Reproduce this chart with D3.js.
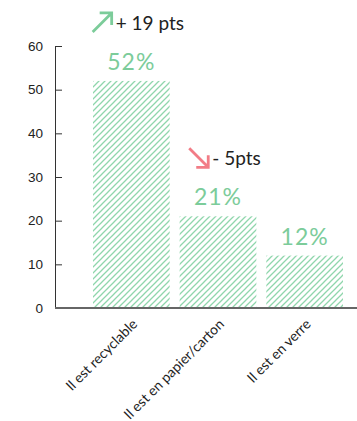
<!DOCTYPE html>
<html>
<head>
<meta charset="utf-8">
<script src="https://cdn.jsdelivr.net/npm/d3@7"></script>
<style>
  html, body { margin: 0; padding: 0; background: #fff; }
  svg { display: block; font-family: "Gill Sans", Lato, "Open Sans", sans-serif; }
</style>
</head>
<body>
<svg id="chart" width="357" height="421"></svg>
<script>
// Share of respondents citing each reason
const categories = ["Il est recyclable", "Il est en papier/carton", "Il est en verre"];
const values = [52, 21, 12];
// Change versus the previous wave (points)
const deltas = [19, -5, null];
const deltaLabels = ["+ 19 pts", "- 5pts", null];
const yTicks = [0, 10, 20, 30, 40, 50, 60];

const green = "#7ccc9a";
const hatch = "#8fd6ac";
const red = "#f27c86";
const ink = "#222";

const svg = d3.select("#chart");

const x = d3.scaleBand()
  .domain(categories)
  .range([93, 343])
  .paddingInner(0.115)
  .paddingOuter(0);

const y = d3.scaleLinear()
  .domain([0, 60])
  .range([308, 46]);

// Diagonal hatch fill for the bars
const defs = svg.append("defs");
const pat = defs.append("pattern")
  .attr("id", "hatch")
  .attr("patternUnits", "userSpaceOnUse")
  .attr("width", 6)
  .attr("height", 6);
pat.append("path")
  .attr("d", "M-1,1 L1,-1 M0,6 L6,0 M5,7 L7,5")
  .attr("stroke", hatch)
  .attr("stroke-width", 1.3);

// Bars
svg.append("g")
  .selectAll("rect")
  .data(categories)
  .join("rect")
  .attr("x", d => x(d))
  .attr("y", (d, i) => y(values[i]))
  .attr("width", x.bandwidth())
  .attr("height", (d, i) => y(0) - y(values[i]))
  .attr("fill", "url(#hatch)");

// Y axis with inward ticks
const yAxis = svg.append("g")
  .attr("transform", "translate(55,0)")
  .call(d3.axisLeft(y).tickValues(yTicks).tickSize(-7).tickSizeOuter(-7).tickPadding(12));
yAxis.select(".domain").attr("stroke", "#333");
yAxis.selectAll(".tick line").attr("stroke", "#333");
yAxis.selectAll(".tick text")
  .attr("fill", ink)
  .style("font-size", "13.5px")
  .style("font-family", "inherit");

// X axis baseline running to the right edge
svg.append("line")
  .attr("x1", 55).attr("x2", 357)
  .attr("y1", y(0)).attr("y2", y(0))
  .attr("stroke", "#666")
  .attr("stroke-width", 2);

// Category labels, rotated
svg.append("g")
  .selectAll("text")
  .data(categories)
  .join("text")
  .attr("transform", d => `translate(${x(d) + x.bandwidth() / 2 + 7},${y(0) + 17}) rotate(-45)`)
  .attr("text-anchor", "end")
  .attr("fill", ink)
  .style("font-size", "14px")
  .text(d => d);

// Value labels
svg.append("g")
  .selectAll("text")
  .data(categories)
  .join("text")
  .attr("x", d => x(d) + x.bandwidth() / 2)
  .attr("y", (d, i) => y(values[i]) - 11)
  .attr("text-anchor", "middle")
  .attr("fill", green)
  .style("font-size", "23px")
  .style("letter-spacing", "1px")
  .text((d, i) => values[i] + "%");

// Trend annotations: arrow + change label
categories.forEach((c, i) => {
  if (deltas[i] == null) return;
  const up = deltas[i] > 0;
  const col = up ? green : red;
  const baseline = y(values[i]) - 11 - 40;
  const g = svg.append("g");
  const t = g.append("text")
    .attr("y", baseline)
    .attr("fill", ink)
    .style("font-size", "19px")
    .text(deltaLabels[i]);
  const tw = t.node().getComputedTextLength();
  const aw = 19, gap = 4;
  const start = x(c) + x.bandwidth() / 2 + 7 - (aw + gap + tw) / 2;
  t.attr("x", start + aw + gap);
  const top = baseline - 17, bot = baseline + 2;
  let d;
  if (up) {
    d = `M${start},${bot} L${start + aw},${top} M${start + aw - 12},${top} L${start + aw},${top} L${start + aw},${top + 12}`;
  } else {
    d = `M${start},${top} L${start + aw},${bot} M${start + aw - 12},${bot} L${start + aw},${bot} L${start + aw},${bot - 12}`;
  }
  g.append("path")
    .attr("d", d)
    .attr("fill", "none")
    .attr("stroke", col)
    .attr("stroke-width", 2.8)
    .attr("stroke-linecap", "butt");
});
</script>
</body>
</html>
